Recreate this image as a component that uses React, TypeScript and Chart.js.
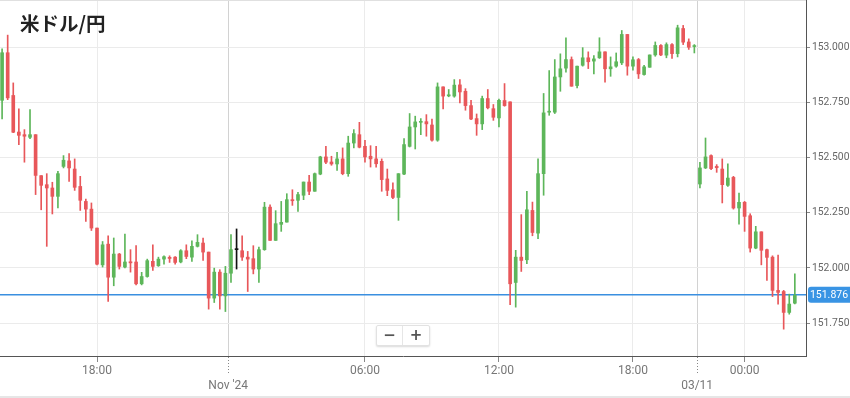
import React, { useEffect, useRef } from "react";
import { Chart, registerables } from "chart.js";

Chart.register(...registerables);

const title = "米ドル/円";

// 15-minute candles, index 0 = Thu 13:45 ... index 124 = Fri 20:45, index 125 = Sun 22:00 ... 142 = Mon 02:15
const openP = [
  152.761, 152.977, 152.783, 152.617, 152.605, 152.593, 152.605, 152.419, 152.378, 152.363,
  152.325, 152.461, 152.486, 152.449, 152.370, 152.302, 152.267, 152.181, 152.014, 152.108,
  151.958, 152.063, 152.004, 152.028, 152.027, 151.928, 151.961, 152.030, 152.010, 152.040,
  152.048, 152.049, 152.027, 152.078, 152.049, 152.098, 152.113, 152.072, 151.863, 151.981,
  151.873, 151.976, 152.083, 152.078, 152.049, 152.042, 151.995, 152.083, 152.276, 152.125,
  152.198, 152.208, 152.310, 152.307, 152.330, 152.390, 152.348, 152.426, 152.504, 152.481,
  152.472, 152.495, 152.428, 152.567, 152.605, 152.552, 152.507, 152.495, 152.484, 152.404,
  152.355, 152.320, 152.426, 152.552, 152.640, 152.661, 152.664, 152.649, 152.580, 152.822,
  152.781, 152.780, 152.831, 152.802, 152.737, 152.678, 152.654, 152.769, 152.723, 152.681,
  152.760, 152.754, 151.934, 152.049, 152.037, 152.261, 152.158, 152.428, 152.707, 152.707,
  152.867, 152.907, 152.946, 152.828, 152.920, 152.954, 152.939, 152.954, 152.981, 152.904,
  152.916, 152.931, 153.060, 152.916, 152.946, 152.878, 152.911, 152.967, 153.010, 152.966,
  153.014, 152.973, 153.087, 153.026, 153.005, 152.381, 152.454, 152.510, 152.461, 152.449,
  152.375, 152.411, 152.272, 152.298, 152.237, 152.090, 152.164, 152.083, 152.049, 151.898,
  151.893, 151.798, 151.840,
];
const highP = [
  152.995, 153.057, 152.840, 152.722, 152.628, 152.719, 152.605, 152.419, 152.428, 152.389,
  152.439, 152.510, 152.519, 152.495, 152.416, 152.313, 152.295, 152.181, 152.120, 152.146,
  152.136, 152.066, 152.154, 152.083, 152.101, 151.980, 152.040, 152.105, 152.049, 152.055,
  152.055, 152.052, 152.083, 152.105, 152.123, 152.151, 152.136, 152.072, 151.999, 151.992,
  152.007, 152.151, 152.177, 152.146, 152.075, 152.101, 152.095, 152.298, 152.287, 152.260,
  152.302, 152.337, 152.355, 152.343, 152.390, 152.420, 152.431, 152.507, 152.552, 152.507,
  152.525, 152.545, 152.598, 152.628, 152.661, 152.579, 152.555, 152.552, 152.495, 152.449,
  152.386, 152.428, 152.587, 152.701, 152.689, 152.678, 152.696, 152.676, 152.840, 152.822,
  152.810, 152.855, 152.855, 152.814, 152.761, 152.699, 152.780, 152.810, 152.742, 152.767,
  152.837, 152.754, 152.080, 152.242, 152.348, 152.299, 152.495, 152.792, 152.896, 152.946,
  152.972, 153.045, 152.958, 152.916, 153.000, 152.981, 152.964, 153.045, 152.981, 152.958,
  152.976, 153.078, 153.060, 152.958, 152.951, 152.920, 152.967, 153.026, 153.014, 153.022,
  153.019, 153.102, 153.101, 153.040, 153.014, 152.480, 152.590, 152.514, 152.469, 152.495,
  152.473, 152.416, 152.340, 152.302, 152.246, 152.189, 152.164, 152.086, 152.055, 152.058,
  151.898, 151.881, 151.973,
];
const lowP = [
  152.677, 152.764, 152.614, 152.560, 152.480, 152.587, 152.333, 152.264, 152.098, 152.245,
  152.272, 152.454, 152.393, 152.352, 152.261, 152.211, 152.170, 152.014, 152.004, 151.848,
  151.919, 151.995, 152.000, 151.981, 151.923, 151.923, 151.958, 151.989, 152.007, 152.017,
  152.025, 152.017, 152.023, 152.042, 152.030, 152.095, 152.034, 151.813, 151.843, 151.813,
  151.802, 151.934, 151.995, 152.034, 151.893, 151.973, 151.934, 152.080, 152.125, 152.125,
  152.166, 152.208, 152.284, 152.257, 152.310, 152.333, 152.348, 152.423, 152.473, 152.466,
  152.443, 152.423, 152.416, 152.545, 152.545, 152.480, 152.458, 152.458, 152.348, 152.328,
  152.314, 152.216, 152.423, 152.549, 152.540, 152.605, 152.598, 152.575, 152.575, 152.722,
  152.777, 152.775, 152.749, 152.716, 152.673, 152.602, 152.628, 152.722, 152.670, 152.640,
  152.734, 151.833, 151.822, 151.984, 152.019, 152.146, 152.133, 152.330, 152.693, 152.701,
  152.802, 152.889, 152.825, 152.817, 152.916, 152.905, 152.881, 152.951, 152.843, 152.870,
  152.911, 152.923, 152.875, 152.898, 152.860, 152.875, 152.911, 152.961, 152.964, 152.954,
  152.951, 152.958, 153.014, 152.992, 152.976, 152.363, 152.451, 152.446, 152.434, 152.295,
  152.370, 152.267, 152.199, 152.166, 152.072, 152.087, 152.014, 151.943, 151.870, 151.836,
  151.722, 151.790, 151.837,
];
const closeP = [
  152.977, 152.772, 152.616, 152.602, 152.598, 152.605, 152.420, 152.375, 152.363, 152.325,
  152.428, 152.489, 152.454, 152.366, 152.307, 152.267, 152.181, 152.017, 152.105, 151.958,
  152.063, 152.007, 152.027, 152.023, 151.928, 151.961, 152.033, 152.007, 152.040, 152.051,
  152.043, 152.025, 152.078, 152.052, 152.098, 152.116, 152.072, 151.863, 151.981, 151.873,
  151.976, 152.083, 152.083, 152.049, 152.040, 151.995, 152.083, 152.276, 152.125, 152.201,
  152.207, 152.310, 152.305, 152.333, 152.390, 152.348, 152.428, 152.504, 152.480, 152.472,
  152.495, 152.428, 152.567, 152.610, 152.548, 152.504, 152.495, 152.473, 152.401, 152.352,
  152.320, 152.428, 152.560, 152.640, 152.663, 152.664, 152.654, 152.580, 152.822, 152.780,
  152.786, 152.830, 152.799, 152.737, 152.676, 152.654, 152.769, 152.727, 152.684, 152.761,
  152.737, 151.928, 152.049, 152.034, 152.264, 152.161, 152.428, 152.704, 152.710, 152.867,
  152.904, 152.946, 152.825, 152.916, 152.954, 152.936, 152.949, 152.981, 152.904, 152.913,
  152.936, 153.060, 152.916, 152.945, 152.881, 152.913, 152.967, 153.010, 152.967, 153.014,
  152.973, 153.090, 153.025, 153.002, 153.008, 152.454, 152.504, 152.451, 152.455, 152.378,
  152.408, 152.272, 152.298, 152.234, 152.090, 152.164, 152.080, 152.048, 151.898, 151.889,
  151.798, 151.836, 151.876,
];

const xTickValues = [17, 40.5, 65, 89, 113, 124.5, 133];
const xTickLabels: (string | string[])[] = ["18:00", ["", "Nov '24"], "06:00", "12:00", "18:00", ["", "03/11"], "00:00"];
const dayBreaks = [40.5, 124.5];
const yTickValues = [151.75, 152.0, 152.25, 152.5, 152.75, 153.0];
const lastPrice = 151.876;

const GREEN = "#5db65a";
const RED = "#e8575a";
const NEUTRAL = "#111111";
const PRICE_LINE = "#3a8fe0";
const PRICE_BADGE = "#3994e4";

function candleColor(i: number) {
  if (closeP[i] > openP[i]) return GREEN;
  if (closeP[i] < openP[i]) return RED;
  return NEUTRAL;
}

export default function App() {
  const canvasRef = useRef<HTMLCanvasElement | null>(null);

  useEffect(() => {
    document.body.style.margin = "0";
    const canvas = canvasRef.current;
    if (!canvas) return;
    const colors = openP.map((_, i) => candleColor(i));

    const overlay = {
      id: "overlay",
      beforeDatasetsDraw(chart: any) {
        const { ctx, chartArea } = chart;
        const ys = chart.scales.y;
        const y = Math.floor(ys.getPixelForValue(lastPrice)) - 1;
        ctx.save();
        ctx.fillStyle = "#e0e0e0";
        ctx.fillRect(chartArea.left, chartArea.top, chartArea.right - chartArea.left, 1);
        ctx.fillStyle = PRICE_LINE;
        ctx.fillRect(chartArea.left, y, chartArea.right - chartArea.left, 1.5);
        ctx.restore();
      },
      afterDraw(chart: any) {
        const { ctx, chartArea } = chart;
        const ys = chart.scales.y;
        const xs = chart.scales.x;
        const y = Math.floor(ys.getPixelForValue(lastPrice)) - 0.25;
        ctx.save();
        ctx.strokeStyle = "#888";
        ctx.lineWidth = 1;
        ctx.setLineDash([1, 2]);
        dayBreaks.forEach((v) => {
          const x = Math.round(xs.getPixelForValue(v)) + 0.5;
          ctx.beginPath();
          ctx.moveTo(x, chartArea.bottom + 1);
          ctx.lineTo(x, chartArea.bottom + 19);
          ctx.stroke();
        });
        ctx.setLineDash([]);
        const bx = chartArea.right + 2;
        const bw = 850 - bx;
        const bh = 16;
        const by = y - bh / 2;
        const r = 3;
        ctx.fillStyle = PRICE_BADGE;
        ctx.beginPath();
        ctx.moveTo(bx + r, by);
        ctx.lineTo(bx + bw, by);
        ctx.lineTo(bx + bw, by + bh);
        ctx.lineTo(bx + r, by + bh);
        ctx.quadraticCurveTo(bx, by + bh, bx, by + bh - r);
        ctx.lineTo(bx, by + r);
        ctx.quadraticCurveTo(bx, by, bx + r, by);
        ctx.closePath();
        ctx.fill();
        ctx.fillStyle = "#ffffff";
        ctx.font = "10.5px Roboto";
        ctx.textAlign = "center";
        ctx.textBaseline = "middle";
        ctx.fillText(lastPrice.toFixed(3), bx + bw / 2, y + 0.5);
        ctx.restore();
      },
    };

    const chart = new Chart(canvas, {
      type: "bar",
      data: {
        datasets: [
          {
            label: "body",
            data: openP.map((o, i) => ({ x: i, y: [o, closeP[i]] })) as any,
            backgroundColor: colors,
            barThickness: 3,
            minBarLength: 1,
            grouped: false,
            order: 0,
          } as any,
          {
            label: "wick",
            data: lowP.map((l, i) => ({ x: i, y: [l, highP[i]] })) as any,
            backgroundColor: colors,
            barThickness: 1,
            grouped: false,
            order: 1,
          } as any,
        ],
      },
      options: {
        responsive: false,
        animation: false,
        devicePixelRatio: 1,
        layout: { padding: 0 },
        plugins: { legend: { display: false }, tooltip: { enabled: false } },
        scales: {
          x: {
            type: "linear",
            min: -0.376,
            max: 144.0,
            offset: false,
            grid: {
              offset: false,
              color: (c: any) => (c.tick && dayBreaks.includes(c.tick.value) ? "#d2d2d2" : "#ebebeb"),
              tickColor: (c: any) => (c.tick && dayBreaks.includes(c.tick.value) ? "rgba(0,0,0,0)" : "#888"),
              tickLength: 6,
            },
            border: { color: "#555", width: 1 },
            ticks: {
              autoSkip: false,
              maxRotation: 0,
              padding: 1,
              color: "#777",
              font: { family: "Roboto", size: 12, lineHeight: 1.25 },
              callback: (v: any) => {
                const k = xTickValues.indexOf(Number(v));
                return k >= 0 ? (xTickLabels[k] as any) : "";
              },
            },
            afterBuildTicks: (s: any) => {
              s.ticks = xTickValues.map((v) => ({ value: v }));
            },
            afterFit: (s: any) => {
              s.height = 42;
              s.paddingLeft = 0;
              s.paddingRight = 0;
            },
          } as any,
          y: {
            type: "linear",
            position: "right",
            min: 151.6002,
            max: 153.2164,
            grid: { color: "#ebebeb", tickLength: 4, tickColor: "#888" },
            border: { color: "#555", width: 1 },
            ticks: {
              padding: 2,
              color: "#666",
              font: { family: "Roboto", size: 10.3 },
              callback: (v: any) => Number(v).toFixed(3),
            },
            afterBuildTicks: (s: any) => {
              s.ticks = yTickValues.map((v) => ({ value: v }));
            },
            afterFit: (s: any) => {
              s.width = 44;
              s.paddingTop = 0;
              s.paddingBottom = 0;
            },
          } as any,
        },
      },
      plugins: [overlay],
    });
    return () => chart.destroy();
  }, []);

  return (
    <div style={{ position: "relative", width: 850, height: 398, overflow: "hidden", background: "#fff" }}>
      <canvas ref={canvasRef} width={850} height={398} style={{ display: "block" }} />
      <div
        style={{
          position: "absolute",
          left: 20,
          top: 13,
          fontFamily: "'Noto Sans CJK JP', 'Noto Sans', sans-serif",
          fontWeight: 700,
          fontSize: 19.5,
          lineHeight: "20px",
          color: "#222",
        }}
      >
        {title}
      </div>
      <div
        style={{
          position: "absolute",
          left: 376,
          top: 325,
          width: 52,
          height: 19,
          background: "#fff",
          border: "1px solid #e2e2e2",
          borderRadius: 2,
          boxShadow: "0 1px 2px rgba(0,0,0,0.15)",
          display: "flex",
          fontFamily: "'DejaVu Sans', sans-serif",
          fontWeight: 700,
          fontSize: 15,
          color: "#555",
          lineHeight: "19px",
        }}
      >
        <div style={{ width: 25, textAlign: "center", borderRight: "1px solid #e6e6e6" }}>−</div>
        <div style={{ width: 26, textAlign: "center" }}>+</div>
      </div>
      <div style={{ position: "absolute", left: 0, top: 396, width: 850, height: 2, background: "#e6e6e6" }} />
    </div>
  );
}
